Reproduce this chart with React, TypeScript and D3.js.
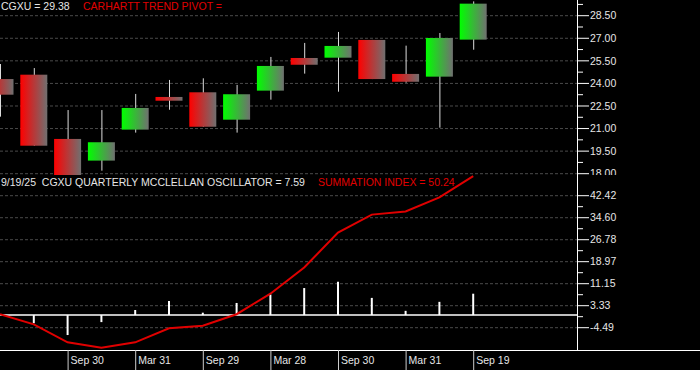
import React from 'react'
import * as d3 from 'd3'

// quarterly candles, last one is the partial quarter
const dates = [
  '2022-03-31', '2022-06-30', '2022-09-30', '2022-12-30', '2023-03-31',
  '2023-06-30', '2023-09-29', '2023-12-29', '2024-03-28', '2024-06-28',
  '2024-09-30', '2024-12-31', '2025-03-31', '2025-06-30', '2025-09-19',
]
const opens = [24.29, 24.58, 20.31, 18.87, 20.93, 23.1, 23.41, 21.59, 23.52, 25.69, 25.71, 26.89, 24.63, 24.45, 26.91]
const highs = [25.29, 25.02, 22.23, 22.23, 23.3, 24.23, 24.34, 23.9, 25.76, 26.69, 27.42, 26.89, 26.51, 27.35, 29.45]
const lows = [21.79, 19.86, 17.8, 18.2, 20.73, 22.25, 21.12, 20.73, 22.92, 24.65, 23.45, 24.29, 24.05, 21.06, 26.24]
const closes = [23.25, 19.86, 17.9, 20.09, 22.37, 22.85, 21.12, 23.28, 25.16, 25.24, 26.49, 24.29, 24.11, 27.02, 29.3]

const oscillator = [0, -2.9, -7.1, -2.5, 1.8, 5.0, 0.85, 4.3, 7.3, 9.6, 11.8, 6.1, 1.5, 4.7, 7.59]
const summation = [0.3, -3.3, -9.7, -11.6, -9.7, -4.7, -3.8, 0.3, 7.6, 16.9, 29.3, 35.7, 36.8, 41.8, 49.4]

const priceTicks = [18, 19.5, 21, 22.5, 24, 25.5, 27, 28.5]
const oscTicks = [-4.49, 3.33, 11.15, 18.97, 26.78, 34.6, 42.42]
const xLabels = ['Sep 30', 'Mar 31', 'Sep 29', 'Mar 28', 'Sep 30', 'Mar 31', 'Sep 19']
const labelDates = ['2022-09-30', '2023-03-31', '2023-09-29', '2024-03-28', '2024-09-30', '2025-03-31', '2025-09-19']

const W = 700
const H = 370
const axisX = 577
const splitY = 175
const bottomY = 350
const font = 'Arial, "Liberation Sans", sans-serif'
const white = '#e6e6e6'
const red = '#e00000'
const grid = '#4a4a4a'

export default function App() {
  const x = d3.scalePoint<string>().domain(dates).range([0, 473.2])
  const yPrice = d3.scaleLinear().domain([18, 28.5]).range([173.7, 15.7])
  const yOsc = d3.scaleLinear().domain([-4.49, 42.42]).range([327.7, 195.7])
  const bodyW = 27

  const priceMinor = priceTicks.map(t => t + 0.75)
  const oscMinor = oscTicks.slice(0, -1).map((t, i) => (t + oscTicks[i + 1]) / 2)

  const line = d3.line<number>()
    .x((_, i) => x(dates[i])!)
    .y(d => yOsc(d))
    .curve(d3.curveLinear)

  return (
    <svg width={W} height={H} style={{ position: 'absolute', left: 0, top: 0, background: '#000' }}
      fontFamily={font}>
      <defs>
        <linearGradient id="gRed" x1="0" x2="1" y1="0" y2="0">
          <stop offset="0" stopColor="#ff0000" />
          <stop offset="1" stopColor="#707070" />
        </linearGradient>
        <linearGradient id="gGreen" x1="0" x2="1" y1="0" y2="0">
          <stop offset="0" stopColor="#00ff00" />
          <stop offset="1" stopColor="#707070" />
        </linearGradient>
        <clipPath id="clipTop"><rect x={0} y={0} width={axisX} height={splitY} /></clipPath>
        <clipPath id="clipBot"><rect x={0} y={splitY} width={axisX} height={bottomY - splitY} /></clipPath>
        <clipPath id="clipTopAxis"><rect x={axisX} y={0} width={W - axisX} height={splitY} /></clipPath>
      </defs>
      <rect width={W} height={H} fill="#000" />

      {/* top panel grid */}
      {priceTicks.map(t => (
        <line key={'pg' + t} x1={0} x2={axisX} y1={yPrice(t)} y2={yPrice(t)}
          stroke={grid} strokeDasharray="3,2" />
      ))}
      {/* bottom panel grid */}
      {oscTicks.map(t => (
        <line key={'og' + t} x1={0} x2={axisX} y1={yOsc(t)} y2={yOsc(t)}
          stroke={grid} strokeDasharray="3,2" />
      ))}

      {/* candles */}
      <g clipPath="url(#clipTop)">
        {dates.map((d, i) => {
          const cx = x(d)!
          const up = closes[i] >= opens[i]
          const top = yPrice(Math.max(opens[i], closes[i]))
          const bot = yPrice(Math.min(opens[i], closes[i]))
          return (
            <g key={d}>
              <line x1={cx + 0.5} x2={cx + 0.5} y1={yPrice(highs[i])} y2={yPrice(lows[i])} stroke="#dcdcdc" />
              <rect x={cx - bodyW / 2} y={top} width={bodyW} height={Math.max(bot - top, 1)}
                fill={up ? 'url(#gGreen)' : 'url(#gRed)'} />
            </g>
          )
        })}
      </g>

      {/* oscillator */}
      <g clipPath="url(#clipBot)">
        <line x1={0} x2={axisX} y1={yOsc(0)} y2={yOsc(0)} stroke="#fff" strokeWidth={1.5} />
        {dates.map((d, i) => (
          <line key={'ob' + d} x1={x(d)!} x2={x(d)!} y1={yOsc(0)} y2={yOsc(oscillator[i])}
            stroke="#fff" strokeWidth={2} />
        ))}
      </g>
      <path d={line(summation)!} fill="none" stroke={red} strokeWidth={2} />

      {/* right axis */}
      <line x1={axisX + 0.5} x2={axisX + 0.5} y1={0} y2={bottomY} stroke="#fff" />
      <g clipPath="url(#clipTopAxis)">
        {priceTicks.map(t => (
          <g key={'pt' + t}>
            <line x1={axisX} x2={axisX + 12} y1={yPrice(t)} y2={yPrice(t)} stroke="#fff" />
            <text x={axisX + 13} y={yPrice(t)} dy="0.36em" fontSize={10.5} fill={white}>{t.toFixed(2)}</text>
          </g>
        ))}
        {priceMinor.map(t => (
          <line key={'pm' + t} x1={axisX} x2={axisX + 6} y1={yPrice(t)} y2={yPrice(t)} stroke="#fff" />
        ))}
      </g>
      {oscTicks.map(t => (
        <g key={'ot' + t}>
          <line x1={axisX} x2={axisX + 12} y1={yOsc(t)} y2={yOsc(t)} stroke="#fff" />
          <text x={axisX + 13} y={yOsc(t)} dy="0.36em" fontSize={10.5} fill={white}>{t.toFixed(2)}</text>
        </g>
      ))}
      {oscMinor.map(t => (
        <line key={'om' + t} x1={axisX} x2={axisX + 6} y1={yOsc(t)} y2={yOsc(t)} stroke="#fff" />
      ))}

      {/* bottom date axis */}
      <line x1={0} x2={W} y1={bottomY + 0.5} y2={bottomY + 0.5} stroke="#fff" />
      {labelDates.map((d, i) => (
        <g key={'xl' + d}>
          <line x1={x(d)! + 0.5} x2={x(d)! + 0.5} y1={bottomY} y2={H} stroke="#ccc" />
          <text x={x(d)! + 3} y={363.5} fontSize={10.5} fill={white}>{xLabels[i]}</text>
        </g>
      ))}

      {/* titles */}
      <text x={1} y={10} fontSize={10.5} fill={white}>CGXU = 29.38</text>
      <text x={83} y={10} fontSize={10.5} fill={red}>CARHARTT TREND PIVOT =</text>
      <text x={1} y={185.5} fontSize={10.5} fill={white} xmlSpace="preserve">9/19/25  CGXU QUARTERLY MCCLELLAN OSCILLATOR = 7.59</text>
      <text x={318} y={185.5} fontSize={10.5} fill={red}>SUMMATION INDEX = 50.24</text>
    </svg>
  )
}
